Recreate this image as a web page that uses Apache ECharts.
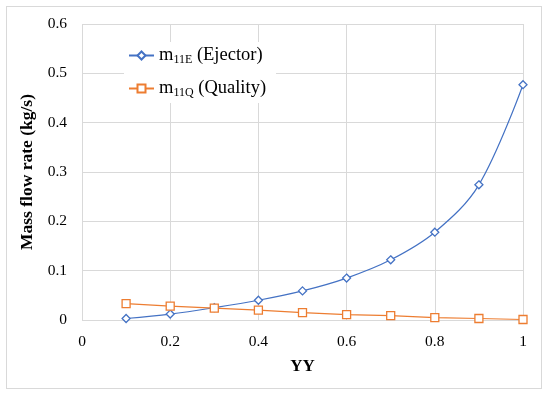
<!DOCTYPE html>
<html>
<head>
<meta charset="utf-8">
<script src="https://cdn.jsdelivr.net/npm/echarts@6/dist/echarts.min.js"></script>
<style>
html,body{margin:0;padding:0;background:#fff;}
#frame{position:absolute;left:6px;top:6px;width:536px;height:383px;border:1px solid #d9d9d9;box-sizing:border-box;}
#c{position:absolute;left:0;top:0;width:550px;height:397px;}
</style>
</head>
<body>
<div id="frame"></div>
<div id="c"></div>
<script>
var yy = [0.1, 0.2, 0.3, 0.4, 0.5, 0.6, 0.7, 0.8, 0.9, 1.0];
var ejector = [0.003, 0.012, 0.025, 0.040, 0.059, 0.085, 0.122, 0.178, 0.274, 0.477];
var quality = [0.033, 0.028, 0.024, 0.020, 0.015, 0.011, 0.009, 0.005, 0.003, 0.001];
var blue = '#4472C4', orange = '#ED7D31';
var font = '"Liberation Serif", "Times New Roman", serif';

function pairs(x, y) { return x.map(function (v, i) { return [v, y[i]]; }); }

var chart = echarts.init(document.getElementById('c'), null, {renderer: 'canvas'});
chart.setOption({
  animation: false,
  backgroundColor: 'transparent',
  grid: {left: 82, right: 27, top: 24, bottom: 77},
  legend: {
    left: 124, top: 42, orient: 'vertical', itemGap: 13,
    itemWidth: 25, itemHeight: 10,
    backgroundColor: '#fff', padding: [4, 10, 4, 4],
    data: ['e', 'q'],
    formatter: function (n) {
      return n === 'e' ? '{a|m}{s|11E}{a| (Ejector)}' : '{a|m}{s|11Q}{a| (Quality)}';
    },
    textStyle: {
      fontFamily: font, color: '#000',
      rich: {
        a: {fontFamily: font, fontSize: 18.5, color: '#000', height: 21},
        s: {fontFamily: font, fontSize: 12, color: '#000', verticalAlign: 'bottom', padding: [7, 0, 0, 0]}
      }
    }
  },
  xAxis: {
    type: 'value', min: 0, max: 1, interval: 0.2,
    name: 'YY', nameLocation: 'middle', nameGap: 38,
    nameTextStyle: {fontFamily: font, fontSize: 17, fontWeight: 'bold', color: '#000'},
    axisLine: {show: false}, axisTick: {show: false},
    axisLabel: {fontFamily: font, fontSize: 15.5, color: '#000', margin: 14,
      formatter: function (v) { return String(Math.round(v * 10) / 10); }},
    splitLine: {show: true, lineStyle: {color: '#d9d9d9', width: 1}}
  },
  yAxis: {
    type: 'value', min: 0, max: 0.6, interval: 0.1,
    name: 'Mass flow rate (kg/s)', nameLocation: 'middle', nameGap: 38, nameRotate: 90,
    nameTextStyle: {fontFamily: font, fontSize: 17.5, fontWeight: 'bold', color: '#000'},
    axisLine: {show: false}, axisTick: {show: false},
    axisLabel: {fontFamily: font, fontSize: 15.5, color: '#000', margin: 15,
      formatter: function (v) { return String(Math.round(v * 10) / 10); }},
    splitLine: {show: true, lineStyle: {color: '#d9d9d9', width: 1}}
  },
  series: [
    {
      name: 'e', type: 'line', smooth: 0.35, data: pairs(yy, ejector),
      symbol: 'diamond', symbolSize: 8, showAllSymbol: true,
      lineStyle: {color: blue, width: 1.2},
      itemStyle: {color: '#fff', borderColor: blue, borderWidth: 1.3}
    },
    {
      name: 'q', type: 'line', smooth: false, data: pairs(yy, quality),
      symbol: 'rect', symbolSize: 8, showAllSymbol: true,
      lineStyle: {color: orange, width: 1.2},
      itemStyle: {color: '#fff', borderColor: orange, borderWidth: 1.3}
    }
  ]
});
</script>
</body>
</html>
